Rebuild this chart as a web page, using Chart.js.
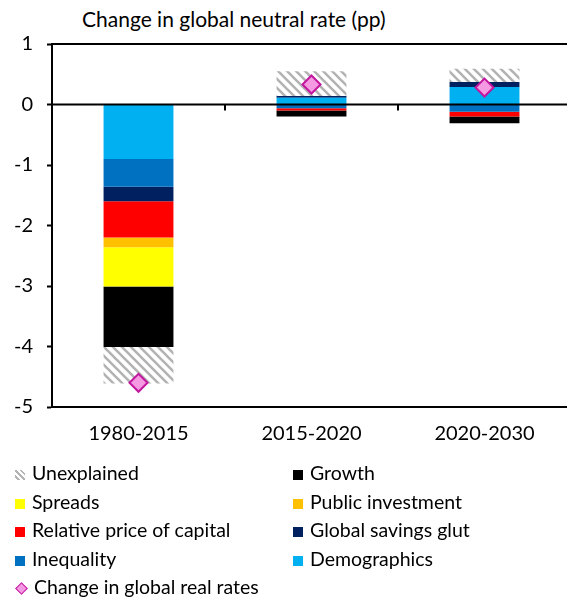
<!DOCTYPE html>
<html>
<head>
<meta charset="utf-8">
<script src="https://cdn.jsdelivr.net/npm/chart.js@4.4.1/dist/chart.umd.min.js"></script>
<style>
html, body { margin: 0; padding: 0; background: #fff; overflow: hidden; }
body { width: 567px; height: 597px; position: relative; font-family: Lato, "Open Sans", sans-serif; color: #000; }
#title { position: absolute; left: 82px; top: 6px; font-size: 21px; white-space: nowrap; }
#chart-wrap { position: absolute; left: 0; top: 0; width: 582px; height: 455px; }
#legend { position: absolute; left: 0; top: 0; width: 567px; height: 597px; pointer-events: none; }
.item { position: absolute; height: 24px; line-height: 24px; font-size: 19.5px; white-space: nowrap; }
.box { display: inline-block; width: 10px; height: 10px; margin-right: 7px; vertical-align: 0px; }
.diamond { display: inline-block; width: 7px; height: 7px; margin: 0 8px 0 2px; transform: rotate(45deg);
  background: #f59ae2; border: 1.5px solid #c3169f; vertical-align: 1px; }
</style>
</head>
<body>
<div id="title">Change in global neutral rate (pp)</div>
<div id="chart-wrap"><canvas id="chart" width="582" height="455"></canvas></div>
<div id="legend"></div>
<script>
// categories and contributions (pp)
const categories = ['1980-2015', '2015-2020', '2020-2030'];
const demographics = [-0.90, 0.11, 0.29];
const inequality = [-0.46, -0.06, -0.12];
const savingsGlut = [-0.24, 0.03, 0.08];
const relativePrice = [-0.60, -0.04, -0.08];
const publicInvestment = [-0.16, 0, 0];
const spreads = [-0.65, 0, 0];
const growth = [-1.00, -0.10, -0.11];
const unexplained = [-0.60, 0.41, 0.22];
const realRates = [-4.60, 0.33, 0.28];
const yTicks = [1, 0, -1, -2, -3, -4, -5];

const ctx = document.getElementById('chart').getContext('2d');

// grey diagonal hatch for the "Unexplained" bars
function makeHatch() {
    const c = document.createElement('canvas');
    c.width = 9; c.height = 9;
    const g = c.getContext('2d');
    g.fillStyle = '#ffffff';
    g.fillRect(0, 0, 9, 9);
    g.strokeStyle = '#b3b3b3';
    g.lineWidth = 2.6;
    g.beginPath();
    g.moveTo(-2, -2); g.lineTo(11, 11);
    g.moveTo(-2, 7); g.lineTo(2, 11);
    g.moveTo(7, -2); g.lineTo(11, 2);
    g.stroke();
    return ctx.createPattern(c, 'repeat');
}
const hatch = makeHatch();

// stacking order: first one sits next to zero
const barSeries = [
    { label: 'Demographics', data: demographics, color: '#00b0f0' },
    { label: 'Inequality', data: inequality, color: '#0070c0' },
    { label: 'Global savings glut', data: savingsGlut, color: '#002060' },
    { label: 'Relative price of capital', data: relativePrice, color: '#ff0000' },
    { label: 'Public investment', data: publicInvestment, color: '#ffc000' },
    { label: 'Spreads', data: spreads, color: '#ffff00' },
    { label: 'Growth', data: growth, color: '#000000' },
    { label: 'Unexplained', data: unexplained, color: hatch }
];

const datasets = barSeries.map(s => ({
    type: 'bar',
    label: s.label,
    data: s.data,
    backgroundColor: s.color,
    borderWidth: 0,
    stack: 'contrib',
    barPercentage: 1,
    categoryPercentage: 70 / 173.3
}));
datasets.push({
    type: 'line',
    label: 'Change in global real rates',
    data: realRates,
    stack: 'rates',
    showLine: false,
    pointStyle: 'rectRot',
    pointRadius: 9,
    pointBackgroundColor: '#f59ae2',
    pointBorderColor: '#c3169f',
    pointBorderWidth: 2,
    order: -1
});

// zero line drawn over the bars, with category separators, plus the top frame line
const frameLines = {
    id: 'frameLines',
    afterDatasetsDraw(chart) {
        const { ctx: c, chartArea: a, scales: { x, y } } = chart;
        const y0 = y.getPixelForValue(0);
        c.save();
        c.strokeStyle = '#000';
        c.lineWidth = 2;
        c.beginPath();
        c.moveTo(a.left, y.getPixelForValue(1));
        c.lineTo(a.right, y.getPixelForValue(1));
        c.moveTo(a.left, y0);
        c.lineTo(a.right, y0);
        for (let i = 1; i < categories.length; i++) {
            const xb = (x.getPixelForValue(i - 1) + x.getPixelForValue(i)) / 2;
            c.moveTo(xb, y0);
            c.lineTo(xb, y0 + 6);
        }
        c.stroke();
        c.restore();
    }
};

const chart = new Chart(ctx, {
    data: { labels: categories, datasets: datasets },
    options: {
        responsive: false,
        animation: false,
        layout: { padding: { top: 44, left: 0, right: 0, bottom: 0 } },
        scales: {
            x: {
                stacked: true,
                grid: { display: false, drawTicks: false },
                border: { display: true, color: '#000', width: 2 },
                ticks: { color: '#000', font: { family: 'Lato', size: 20 }, padding: 15, maxRotation: 0 },
                afterFit(scale) { scale.height = 48; }
            },
            y: {
                stacked: true,
                min: -5,
                max: 1,
                afterBuildTicks(scale) { scale.ticks = yTicks.map(v => ({ value: v })); },
                grid: { drawOnChartArea: false, drawTicks: true, tickLength: 5, tickColor: '#000', tickWidth: 2 },
                border: { display: true, color: '#000', width: 2 },
                ticks: { color: '#000', font: { family: 'Lato', size: 20 }, padding: 14 },
                afterFit(scale) { scale.width = 52; }
            }
        },
        plugins: {
            legend: { display: false },
            tooltip: { enabled: false }
        }
    },
    plugins: [frameLines]
});

// two-column legend, reverse stacking order, diamond last
const legendOrder = barSeries.slice().reverse();
const legendEl = document.getElementById('legend');
const rowY = [473, 501.5, 530, 558.5, 587];
legendOrder.forEach((s, i) => {
    const el = document.createElement('div');
    el.className = 'item';
    el.style.left = (i % 2 === 0 ? 15 : 293) + 'px';
    el.style.top = (rowY[Math.floor(i / 2)] - 12) + 'px';
    const box = document.createElement('span');
    box.className = 'box';
    if (s.label === 'Unexplained') {
        box.style.background = 'repeating-linear-gradient(45deg, #fff 0 2px, #b3b3b3 2px 4px)';
    } else {
        box.style.background = s.color;
    }
    el.appendChild(box);
    el.appendChild(document.createTextNode(s.label));
    legendEl.appendChild(el);
});
const rateItem = document.createElement('div');
rateItem.className = 'item';
rateItem.style.left = '15px';
rateItem.style.top = (rowY[4] - 12) + 'px';
rateItem.innerHTML = '<span class="diamond"></span>';
rateItem.appendChild(document.createTextNode('Change in global real rates'));
legendEl.appendChild(rateItem);
</script>
</body>
</html>
